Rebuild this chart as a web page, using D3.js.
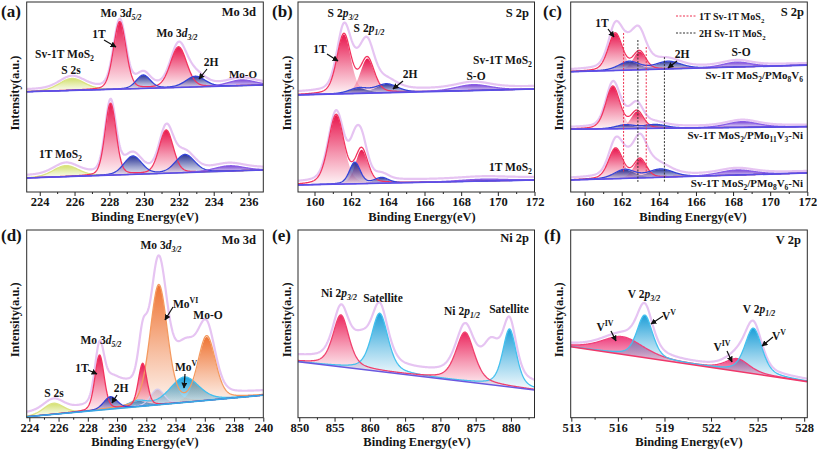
<!DOCTYPE html>
<html><head><meta charset="utf-8">
<script src="https://cdn.jsdelivr.net/npm/d3@7"></script>
<style>body{margin:0;background:#fff}svg{display:block}</style>
</head><body><svg id="chart" width="817" height="455"></svg>
<script>
// ================= DATA =================
// Peak rows: [sample index, component, centre (eV), height (a.u.), FWHM (eV)]
// Baselines: [intensity at low-eV edge, intensity at high-eV edge]
// Envelope: [offset, extra broad contributions [centre, height, FWHM]]

// (a) Mo 3d : Sv-1T MoS2 / 1T MoS2
const aTicks = [224, 226, 228, 230, 232, 234, 236];
const aMinor = [225, 227, 229, 231, 233, 235];
const aSamples = ["Sv-1T MoS_{2}", "1T MoS_{2}"];
const aBase = [[52.8, 56.3], [7.4, 11.6]];
const aPeaks = [
  [0, "S2s", 225.85, 6.3, 1.7], [0, "1T", 228.6, 35.4, 0.85], [0, "1T", 231.98, 21.3, 1.1],
  [0, "2H", 229.95, 7.0, 0.95], [0, "2H", 232.95, 5.6, 1.3], [0, "MoO", 235.6, 3.0, 1.8],
  [1, "S2s", 225.5, 5.8, 1.7], [1, "1T", 228.07, 37.8, 0.75], [1, "1T", 231.27, 22.7, 0.95],
  [1, "2H", 229.35, 9.6, 1.2], [1, "2H", 232.35, 9.5, 1.3], [1, "MoO", 234.9, 2.8, 2.0]
];
const aEnv = [[1.2, []], [1.4, []]];

// (b) S 2p : Sv-1T MoS2 / 1T MoS2
const bTicks = [160, 162, 164, 166, 168, 170, 172];
const bMinor = [161, 163, 165, 167, 169, 171];
const bSamples = ["Sv-1T MoS_{2}", "1T MoS_{2}"];
const bBase = [[51.1, 54.2], [3.7, 6.3]];
const bPeaks = [
  [0, "1T", 161.6, 31.2, 0.9], [0, "1T", 162.88, 18.2, 0.9],
  [0, "2H", 162.4, 2.7, 1.2], [0, "2H", 163.93, 4.6, 1.4], [0, "SO", 168.65, 3.1, 2.2],
  [1, "1T", 161.18, 36.4, 1.0], [1, "1T", 162.57, 17.8, 0.8],
  [1, "2H", 162.2, 11.3, 0.7], [1, "2H", 163.66, 2.9, 0.9], [1, "SO", 169.2, 1.0, 3.0]
];
const bEnv = [[1.5, [[162.5, 7, 1.6]]], [1.5, [[162.3, 3, 1.0]]]];

// (c) S 2p : composites
const cTicks = [160, 162, 164, 166, 168, 170, 172];
const cMinor = [161, 163, 165, 167, 169, 171];
const cSamples = ["Sv-1T MoS_{2}/PMo_{8}V_{6}", "Sv-1T MoS_{2}/PMo_{11}V_{3}-Ni", "Sv-1T MoS_{2}/PMo_{8}V_{6}-Ni"];
const cBase = [[63.3, 66.8], [33.0, 34.4], [6.3, 10.0]];
const cPeaks = [
  [0, "1T", 161.65, 19.6, 0.9], [0, "1T", 162.95, 9.6, 0.8],
  [0, "2H", 162.4, 4.5, 1.3], [0, "2H", 164.5, 4.0, 1.6], [0, "SO", 168.2, 2.6, 1.8],
  [1, "1T", 161.52, 22.3, 0.9], [1, "1T", 162.83, 9.0, 0.8],
  [1, "2H", 162.2, 2.0, 1.2], [1, "2H", 163.8, 2.0, 1.4], [1, "SO", 168.5, 3.0, 2.0],
  [2, "1T", 161.67, 16.0, 0.9], [2, "1T", 162.99, 10.0, 0.8],
  [2, "2H", 162.15, 4.6, 1.3], [2, "2H", 164.1, 4.3, 1.6], [2, "SO", 168.2, 2.7, 2.2]
];
const cEnv = [[1.0, [[162.7, 9, 1.6]]], [1.0, [[162.5, 2.5, 1.4]]], [1.0, [[163.0, 9, 1.5]]]];
// reference lines: [label, eV, top intensity, bottom intensity]
const cRefLines = [["1T", 162.1, 83.7, 10], ["1T", 163.32, 76.3, 10], ["2H", 162.87, 80, 5.3], ["2H", 164.3, 71, 5.3]];
const cLegend = ["1T Sv-1T MoS_{2}", "2H Sv-1T MoS_{2}"];

// (d) Mo 3d : composite
const dTicks = [224, 226, 228, 230, 232, 234, 236, 238, 240];
const dMinor = [225, 227, 229, 231, 233, 235, 237, 239];
const dBase = [[0.5, 12.0]];
const dPeaks = [
  [0, "S2s", 225.65, 5.9, 1.6], [0, "1T", 228.8, 29.3, 0.75], [0, "1T", 231.75, 22.7, 0.7],
  [0, "2H", 229.55, 6.6, 1.1], [0, "2Hb", 232.75, 8.4, 1.1],
  [0, "MoV", 231.4, 3.0, 1.5], [0, "MoV", 234.6, 13.5, 2.3],
  [0, "MoVI", 232.85, 63.7, 1.4], [0, "MoVI", 236.13, 33.8, 1.4]
];
const dEnv = [[2.0, [[230.3, 9, 2.2], [234.7, 13, 1.6]]]];

// (e) Ni 2p
const eTicks = [850, 855, 860, 865, 870, 875, 880];
const eMinor = [852.5, 857.5, 862.5, 867.5, 872.5, 877.5, 882.5];
const eBase = [[29.8, 14.8]];
const ePeaks = [
  [0, "Ni", 855.9, 27.6, 2.7], [0, "Ni", 873.5, 26.3, 3.1],
  [0, "Sat", 861.4, 31.0, 2.8], [0, "Sat", 879.8, 30.8, 2.3]
];
const eEnv = [[3.0, [[858.7, 10, 3], [877.2, 17, 2.8]]]];

// (f) V 2p
const fTicks = [513, 516, 519, 522, 525, 528];
const fMinor = [514.5, 517.5, 520.5, 523.5, 526.5];
const fBase = [[37.8, 19.2]];
const fPeaks = [
  [0, "VIV", 516.3, 9.4, 3.2], [0, "VIV", 523.7, 6.6, 1.8],
  [0, "VV", 517.73, 22.6, 1.2], [0, "VV", 524.73, 24.2, 1.3]
];
const fEnv = [[1.0, []]];

// ================= STYLE =================
const FONT = "'Liberation Serif','Times New Roman',Times,serif";
const STYLE = {
  "S2s":  {fill: "#d3e070", line: "#dbe482"},
  "1T":   {fill: "#e8174f", line: "#f2345f"},
  "2H":   {fill: "#2a3596", line: "#3443d8"},
  "2Hb":  {fill: "#c8c0e0", line: "#d6cdee"},
  "MoO":  {fill: "#7a48d4", line: "#8a5ce6"},
  "SO":   {fill: "#7a48d4", line: "#8a5ce6"},
  "MoVI": {fill: "#ee7434", line: "#f49a60"},
  "MoV":  {fill: "#1aa2de", line: "#40bff0"},
  "Ni":   {fill: "#ec2a60", line: "#f0406e"},
  "Sat":  {fill: "#1e9fd8", line: "#44c0ee"},
  "VIV":  {fill: "#ee3d7c", line: "#f0407a"},
  "VV":   {fill: "#1e9fd8", line: "#44c0ee"}
};
const ENV_COLOR = "#e6c4f2";

const svg = d3.select("#chart");
const defs = svg.append("defs");
Object.entries(STYLE).forEach(([k, s]) => {
  const g = defs.append("linearGradient").attr("id", "gr-" + k)
    .attr("x1", 0).attr("y1", 0).attr("x2", 0).attr("y2", 1);
  g.append("stop").attr("offset", 0).attr("stop-color", s.fill).attr("stop-opacity", 1);
  g.append("stop").attr("offset", 0.55).attr("stop-color", s.fill).attr("stop-opacity", 0.45);
  g.append("stop").attr("offset", 1).attr("stop-color", s.fill).attr("stop-opacity", 0.04);
});
defs.append("marker").attr("id", "arr").attr("viewBox", "0 0 10 10").attr("refX", 9).attr("refY", 5)
  .attr("markerWidth", 6).attr("markerHeight", 6).attr("markerUnits", "userSpaceOnUse").attr("orient", "auto")
  .append("path").attr("d", "M0,0L10,5L0,10z").attr("fill", "#111");

function pv(x, c, w, eta) {
  const d = (x - c) / w;
  return (1 - eta) * Math.exp(-4 * Math.LN2 * d * d) + eta / (1 + 4 * d * d);
}

function rich(x, y, str, o = {}) {
  const fs = o.size || 11.5;
  const t = svg.append("text").attr("x", x).attr("y", y).attr("font-size", fs)
    .attr("font-family", FONT).attr("font-weight", "bold")
    .attr("text-anchor", o.anchor || "start").attr("fill", o.fill || "#151515");
  if (o.transform) t.attr("transform", o.transform);
  let cur = 0;
  const toks = str.match(/(\*[^*]+\*|_\{[^}]+\}|\^\{[^}]+\}|[^*_^]+)/g) || [];
  toks.forEach(m => {
    let txt = m, shift = 0, small = false, it = false;
    if (m[0] === "*") { txt = m.slice(1, -1); it = true; }
    else if (m[0] === "_") { txt = m.slice(2, -1); shift = fs * 0.3; small = true; }
    else if (m[0] === "^") { txt = m.slice(2, -1); shift = -fs * 0.42; small = true; }
    if (small && txt[0] === "*") { txt = txt.slice(1, -1); it = true; }
    const sp = t.append("tspan").text(txt).attr("dy", shift - cur);
    cur = shift;
    if (small) sp.attr("font-size", fs * 0.68);
    if (it) sp.attr("font-style", "italic");
  });
  return t;
}
function arrow(x1, y1, x2, y2) {
  svg.append("line").attr("x1", x1).attr("y1", y1).attr("x2", x2).attr("y2", y2)
    .attr("stroke", "#111").attr("stroke-width", 1.2).attr("marker-end", "url(#arr)");
}

let clipN = 0;
function panel(cfg) {
  const {box, domain, ticks, minor, base, peaks, env, eta, order, baseColor} = cfg;
  const x = d3.scaleLinear().domain(domain).range([box.l, box.r]);
  const y = d3.scaleLinear().domain([0, 100]).range([box.b, box.t]);
  const cid = "clip" + (clipN++);
  defs.append("clipPath").attr("id", cid).append("rect")
    .attr("x", box.l).attr("y", box.t).attr("width", box.r - box.l).attr("height", box.b - box.t);
  const g = svg.append("g").attr("clip-path", `url(#${cid})`);
  const N = 500;
  const xs = d3.range(N + 1).map(k => domain[0] + k * (domain[1] - domain[0]) / N);

  base.forEach((bl, i) => {
    const B = v => bl[0] + (bl[1] - bl[0]) * (v - domain[0]) / (domain[1] - domain[0]);
    const pk = peaks.filter(p => p[0] === i);
    // fills per peak
    order.forEach(comp => {
      pk.filter(p => p[1] === comp).forEach(p => {
        const lo = Math.max(domain[0], p[2] - 2.4 * p[4]), hi = Math.min(domain[1], p[2] + 2.4 * p[4]);
        const px = d3.range(121).map(k => lo + k * (hi - lo) / 120);
        g.append("path").datum(px)
          .attr("d", d3.area().x(v => x(v)).y0(v => y(B(v))).y1(v => y(B(v) + p[3] * pv(v, p[2], p[4], eta))))
          .attr("fill", `url(#gr-${comp})`);
      });
    });
    // envelope
    const [off, extra] = env[i];
    const envF = v => B(v) + off + d3.sum(pk, p => p[3] * pv(v, p[2], p[4], eta)) +
      d3.sum(extra, p => p[1] * pv(v, p[0], p[2], eta));
    g.append("path").datum(xs).attr("d", d3.line().x(v => x(v)).y(v => y(envF(v))))
      .attr("fill", "none").attr("stroke", ENV_COLOR).attr("stroke-width", 2.2);
    // component lines (sum of each component's peaks)
    order.forEach(comp => {
      const cp = pk.filter(p => p[1] === comp);
      if (!cp.length) return;
      g.append("path").datum(xs)
        .attr("d", d3.line().x(v => x(v)).y(v => y(B(v) + d3.sum(cp, p => p[3] * pv(v, p[2], p[4], eta)))))
        .attr("fill", "none").attr("stroke", STYLE[comp].line).attr("stroke-width", 1.3);
    });
    // baseline
    g.append("path").datum(domain).attr("d", d3.line().x(v => x(v)).y(v => y(B(v))))
      .attr("fill", "none").attr("stroke", baseColor).attr("stroke-width", 1.6);
  });

  // axes
  const axG = svg.append("g").attr("transform", `translate(0,${box.b})`)
    .call(d3.axisBottom(x).tickValues(ticks).tickSize(4).tickSizeOuter(0).tickFormat(d3.format("d")));
  axG.select(".domain").remove();
  axG.selectAll("line").attr("stroke", "#222");
  axG.selectAll("text").attr("font-family", FONT).attr("font-weight", "bold").attr("font-size", 12.5)
    .attr("fill", "#151515").attr("y", 6).attr("dy", "0.64em");
  const mG = svg.append("g").attr("transform", `translate(0,${box.b})`)
    .call(d3.axisBottom(x).tickValues(minor).tickSize(2).tickSizeOuter(0).tickFormat(""));
  mG.select(".domain").remove();
  mG.selectAll("line").attr("stroke", "#222");
  svg.append("rect").attr("x", box.l).attr("y", box.t).attr("width", box.r - box.l).attr("height", box.b - box.t)
    .attr("fill", "none").attr("stroke", "#2a2a2a").attr("stroke-width", 1);
  rich(cfg.titleX, box.b + 28.5, "Binding Energy(eV)", {anchor: "middle", size: 12.5});
  rich(0, 0, "Intensity(a.u.)", {anchor: "middle", size: 12.5,
    transform: `translate(${box.l - 7.5},${(box.t + box.b) / 2 - 4}) rotate(-90)`});
  return {x, y};
}

// ================= PANELS =================
const TOP = {t: 2, b: 192}, BOT = {t: 230, b: 417.7};
const COLS = [[26.7, 263.3], [298, 534.5], [570.7, 807.3]];

panel({box: {l: COLS[0][0], r: COLS[0][1], ...TOP}, domain: [223.25, 236.85], ticks: aTicks, minor: aMinor,
  base: aBase, peaks: aPeaks, env: aEnv, eta: 0.2, order: ["S2s", "1T", "2H", "MoO"], baseColor: "#5a4ee6", titleX: 145});
panel({box: {l: COLS[1][0], r: COLS[1][1], ...TOP}, domain: [159.1, 172], ticks: bTicks, minor: bMinor,
  base: bBase, peaks: bPeaks, env: bEnv, eta: 0.3, order: ["1T", "2H", "SO"], baseColor: "#5a4ee6", titleX: 422});
const pc = panel({box: {l: COLS[2][0], r: COLS[2][1], ...TOP}, domain: [159.25, 172], ticks: cTicks, minor: cMinor,
  base: cBase, peaks: cPeaks, env: cEnv, eta: 0.3, order: ["1T", "2H", "SO"], baseColor: "#5a4ee6", titleX: 693});
panel({box: {l: COLS[0][0], r: COLS[0][1], ...BOT}, domain: [223.82, 240], ticks: dTicks, minor: dMinor,
  base: dBase, peaks: dPeaks, env: dEnv, eta: 0.25, order: ["S2s", "2Hb", "MoV", "MoVI", "1T", "2H"], baseColor: "#3aa8e6", titleX: 145});
panel({box: {l: COLS[1][0], r: COLS[1][1], ...BOT}, domain: [849.82, 883.34], ticks: eTicks, minor: eMinor,
  base: eBase, peaks: ePeaks, env: eEnv, eta: 0.5, order: ["Sat", "Ni"], baseColor: "#6a58e0", titleX: 417});
panel({box: {l: COLS[2][0], r: COLS[2][1], ...BOT}, domain: [512.96, 528.2], ticks: fTicks, minor: fMinor,
  base: fBase, peaks: fPeaks, env: fEnv, eta: 0.45, order: ["VIV", "VV"], baseColor: "#f0386a", titleX: 689});

// (c) reference lines + legend
cRefLines.forEach(r => {
  svg.append("line").attr("x1", pc.x(r[1])).attr("x2", pc.x(r[1])).attr("y1", pc.y(r[2])).attr("y2", pc.y(r[3]))
    .attr("stroke", r[0] === "1T" ? "#ee3050" : "#333").attr("stroke-width", 1).attr("stroke-dasharray", "2,1.5");
});
[["1T", 16], ["2H", 33]].forEach(([k, yy], i) => {
  svg.append("line").attr("x1", 676).attr("x2", 696).attr("y1", yy).attr("y2", yy)
    .attr("stroke", k === "1T" ? "#ee3050" : "#333").attr("stroke-width", 1).attr("stroke-dasharray", "2,1.5");
  rich(699, yy + 4, cLegend[i], {size: 10});
});

// ================= ANNOTATIONS =================
[["(a)", 1, 17], ["(b)", 272, 17], ["(c)", 543, 17], ["(d)", 1, 241], ["(e)", 272, 241], ["(f)", 544, 241]]
  .forEach(([s, xx, yy]) => rich(xx, yy, s, {size: 17}));
rich(256, 16, "Mo 3d", {anchor: "end", size: 12.5});
rich(529, 17, "S 2p", {anchor: "end", size: 12.5});
rich(804, 16, "S 2p", {anchor: "end", size: 12.5});
rich(256, 244, "Mo 3d", {anchor: "end", size: 12.5});
rich(529, 242, "Ni 2p", {anchor: "end", size: 12.5});
rich(801, 244, "V 2p", {anchor: "end", size: 12.5});

// (a)
rich(121, 17, "Mo 3*d*_{*5/2*}", {anchor: "middle"});
rich(99, 38, "1T", {anchor: "middle"}); arrow(104, 40, 116, 47);
rich(177, 37, "Mo 3*d*_{*3/2*}", {anchor: "middle"});
rich(35, 58, aSamples[0]);
rich(71, 74, "S 2s", {anchor: "middle"});
rich(211, 66, "2H", {anchor: "middle"}); arrow(207, 69, 199, 79);
rich(243, 78, "Mo-O", {anchor: "middle", size: 11});
rich(39, 158, aSamples[1]);

// (b)
rich(343, 17, "S 2*p*_{*3/2*}", {anchor: "middle"});
rich(369, 32, "S 2*p*_{*1/2*}", {anchor: "middle"});
rich(320, 53, "1T", {anchor: "middle"}); arrow(327, 54, 338, 61);
rich(532, 64, bSamples[0], {anchor: "end"});
rich(410, 78, "2H", {anchor: "middle"}); arrow(403, 81, 393, 89);
rich(476, 80, "S-O", {anchor: "middle"});
rich(532, 171, bSamples[1], {anchor: "end"});

// (c)
rich(602, 27, "1T", {anchor: "middle"}); arrow(608, 29, 614, 37);
rich(682, 58, "2H", {anchor: "middle"}); arrow(677, 61, 668, 68);
rich(741, 56, "S-O", {anchor: "middle"});
rich(803, 79, cSamples[0], {anchor: "end", size: 11});
rich(803, 139, cSamples[1], {anchor: "end", size: 11});
rich(803, 187, cSamples[2], {anchor: "end", size: 11});

// (d)
rich(161, 249, "Mo 3*d*_{*3/2*}", {anchor: "middle"});
rich(173, 308, "Mo^{VI}"); arrow(173, 307, 165, 320);
rich(208, 319, "Mo-O", {anchor: "middle"});
rich(101, 344, "Mo 3*d*_{*5/2*}", {anchor: "middle"});
rich(82, 372, "1T", {anchor: "middle"}); arrow(88, 370, 97, 374);
rich(175, 371, "Mo^{V}"); arrow(185, 374, 184, 388);
rich(121, 392, "2H", {anchor: "middle"}); arrow(117, 395, 112, 403);
rich(54, 397, "S 2s", {anchor: "middle"});

// (e)
rich(339, 297, "Ni 2*p*_{*3/2*}", {anchor: "middle"});
rich(383, 302, "Satellite", {anchor: "middle"});
rich(462, 315, "Ni 2*p*_{*1/2*}", {anchor: "middle"});
rich(509, 313, "Satellite", {anchor: "middle"});

// (f)
rich(644, 298, "V 2*p*_{*3/2*}", {anchor: "middle"});
rich(662, 320, "V^{V}"); arrow(663, 316, 651, 324);
rich(605, 331, "V^{IV}", {anchor: "middle"}); arrow(611, 331, 616, 341);
rich(759, 313, "V 2*p*_{*1/2*}", {anchor: "middle"});
rich(772, 340, "V^{V}"); arrow(773, 337, 762, 346);
rich(722, 351, "V^{IV}", {anchor: "middle"}); arrow(727, 351, 732, 362);
</script>
</body></html>
